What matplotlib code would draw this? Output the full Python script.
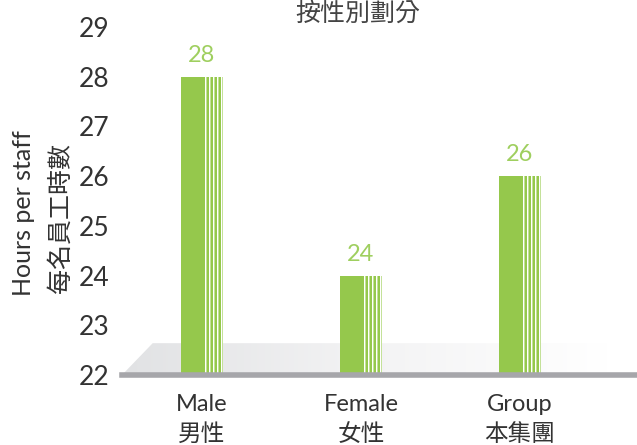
import numpy as np
import matplotlib.pyplot as plt
from matplotlib.patches import Polygon
from matplotlib.colors import LinearSegmentedColormap

plt.rcParams['font.family'] = ['Lato', 'Noto Sans CJK TC', 'DejaVu Sans']

# data
categories = ['Male\n男性', 'Female\n女性', 'Group\n本集團']
hours = [28, 24, 26]
y_ticks = [22, 23, 24, 25, 26, 27, 28, 29]

bar_green = '#95c84c'
light_green = '#c4e19a'
label_green = '#9fcf5f'
text_col = '#333333'

fig = plt.figure(figsize=(6.37, 4.45), dpi=100)
ax = fig.add_axes([122 / 637, 70 / 445, 515 / 637, 348 / 445])
ax.set_xlim(-0.503, 2.736)
ax.set_ylim(22, 29)

x = np.arange(len(categories))
w = 0.27

# grey platform with gradient fading right
plat = Polygon([(-0.503, 22.0), (-0.31, 22.64), (2.736, 22.64), (2.736, 22.0)],
               closed=True, facecolor='none', edgecolor='none')
ax.add_patch(plat)
cmap = LinearSegmentedColormap.from_list('plat', ['#e1e2e4', '#f3f3f4', '#ffffff'])
grad = np.linspace(0, 1, 256).reshape(1, -1)
im = ax.imshow(grad, cmap=cmap, extent=(-0.503, 2.55, 22.0, 22.64),
               aspect='auto', zorder=1)
im.set_clip_path(plat)
ax.fill_between([2.55, 2.736], 22.0, 22.64, color='white', zorder=1)

# bars with striped right part
ax.bar(x, hours, width=w, bottom=0, color=bar_green, zorder=3)
for xi, h in zip(x, hours):
    left = xi - w / 2
    px = w / 43.0
    ax.bar(left + 24.5 * px, h, width=18.5 * px, align='edge', color=light_green, zorder=4)
    for a, b in [(26.5, 28.5), (30.5, 32.5), (34.5, 36.5), (38.5, 40.5)]:
        ax.bar(left + a * px, h, width=(b - a) * px, align='edge', color=bar_green, zorder=5)
    for s in [24.6, 28.8, 32.8, 36.8, 40.8]:
        ax.bar(left + s * px, h, width=0.9 * px, align='edge', color='white', zorder=6)
    ax.text(xi, h + 0.22, str(h), ha='center', va='bottom', fontsize=17,
            color=label_green, zorder=7)

# axis line
ax.axhline(22.0, color='#a6a6aa', lw=4, zorder=8, clip_on=False)

for s in ax.spines.values():
    s.set_visible(False)
ax.set_yticks(y_ticks)
ax.set_yticklabels([str(t) for t in y_ticks], fontsize=19, color=text_col)
ax.tick_params(axis='y', length=0, pad=9)
ax.set_xticks(x)
ax.set_xticklabels(categories, fontsize=17, color=text_col, linespacing=1.45)
ax.tick_params(axis='x', length=0, pad=14)

fig.text(24 / 637, 1 - 213 / 445, 'Hours per staff', rotation=90, ha='center',
         va='center', fontsize=18, color=text_col)
fig.text(60 / 637, 1 - 218 / 445, '每名員工時數', rotation=90, ha='center',
         va='center', fontsize=18, color=text_col)
fig.text(358 / 637, 1 - 13 / 445, '按性別劃分', ha='center', va='center',
         fontsize=18, color='#444444')

fig.savefig('out.png', dpi=100)
